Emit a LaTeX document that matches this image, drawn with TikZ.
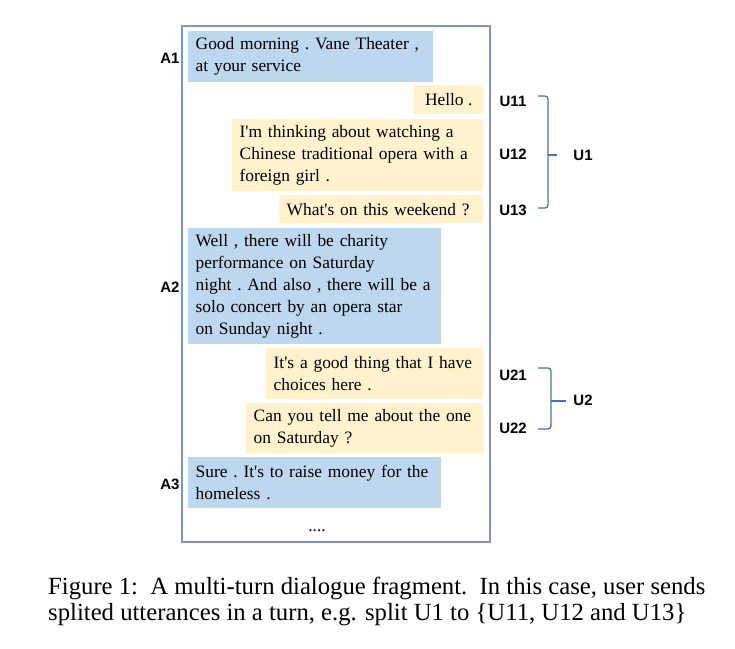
\documentclass[tikz,border=0pt]{standalone}
\usepackage{fontspec}
\setmainfont{Liberation Serif}
\newfontfamily\boxfont{Liberation Serif}
\newfontfamily\labfont{Liberation Sans}
\definecolor{ablue}{HTML}{BDD7EE}
\definecolor{uyellow}{HTML}{FFF2CC}
\definecolor{framec}{RGB}{125,148,202}
\definecolor{bracec}{HTML}{4472C4}
\begin{document}
\begin{tikzpicture}[x=1pt,y=-1pt,
  bubble/.style={anchor=north west,inner xsep=7.5pt,inner ysep=0pt,align=left,
    font=\boxfont\frenchspacing\fontsize{17.4}{22}\selectfont},
  sysbox/.style={bubble,fill=ablue},
  usrbox/.style={bubble,fill=uyellow},
  lab/.style={font=\labfont\bfseries\fontsize{15}{18}\selectfont,inner sep=0pt},
  brace/.style={draw=bracec,line width=1.3pt,rounded corners=3pt},
  capline/.style={anchor=base west,inner sep=0pt,font=\fontsize{24.7}{28}\selectfont}]
\useasboundingbox (0,0) rectangle (735,648);
% frame
\draw[framec,line width=1.4pt] (182,26) rectangle (490,542);
% bubbles
\node[sysbox,minimum width=245pt,minimum height=51pt,text width=230pt] (a1) at (188,31)
  {Good morning . Vane Theater ,\\at your service};
\node[usrbox,minimum width=69pt,minimum height=29pt,align=center] (u11) at (414,85)
  {Hello .};
\node[usrbox,minimum width=251pt,minimum height=72pt,text width=236pt] (u12) at (232,119)
  {I'm thinking about watching a\\Chinese traditional opera with a\\foreign girl .};
\node[usrbox,minimum width=204pt,minimum height=28pt,text width=189pt] (u13) at (279,195)
  {What's on this weekend ?};
\node[sysbox,minimum width=253pt,minimum height=116pt,text width=238pt] (a2) at (188,228)
  {Well , there will be charity\\performance on Saturday\\night . And also , there will be a\\solo concert by an opera star\\on Sunday night .};
\node[usrbox,minimum width=217pt,minimum height=51pt,text width=202pt] (u21) at (266,348)
  {It's a good thing that I have\\choices here .};
\node[usrbox,minimum width=237pt,minimum height=50pt,text width=222pt] (u22) at (246,403)
  {Can you tell me about the one\\on Saturday ?};
\node[sysbox,minimum width=253pt,minimum height=51pt,text width=238pt] (a3) at (188,457)
  {Sure . It's to raise money for the\\homeless .};
\node[font=\boxfont\fontsize{17.4}{20}\selectfont,inner sep=0pt] (dots) at (317,531) {....};
% labels
\node[lab] (la1) at (170,58) {A1};
\node[lab] (la2) at (170,287) {A2};
\node[lab] (la3) at (170,484) {A3};
\node[lab] (lu11) at (513,101) {U11};
\node[lab] (lu12) at (513,154) {U12};
\node[lab] (lu13) at (513,210) {U13};
\node[lab] (lu1) at (583,155) {U1};
\node[lab] (lu21) at (513,375) {U21};
\node[lab] (lu22) at (513,428) {U22};
\node[lab] (lu2) at (583,400) {U2};
% braces
\coordinate (b1t) at (538,96);
\coordinate (b1b) at (538,208);
\coordinate (b1m) at (557,155);
\draw[brace] (b1t) -- (548,96) -- (548,208) -- (b1b);
\draw[brace] (548,155) -- (b1m);
\coordinate (b2t) at (538,368);
\coordinate (b2b) at (538,429);
\coordinate (b2m) at (566,401);
\draw[brace] (b2t) -- (551,368) -- (551,429) -- (b2b);
\draw[brace] (551,401) -- (b2m);
% caption
\node[capline] (cap1) at (48,594) {Figure 1:\ \ A multi-turn dialogue fragment.\ \ In this case, user sends};
\node[capline] (cap2) at (48,620) {splited utterances in a turn, e.g. split U1 to \{U11, U12 and U13\}};
\end{tikzpicture}
\end{document}
